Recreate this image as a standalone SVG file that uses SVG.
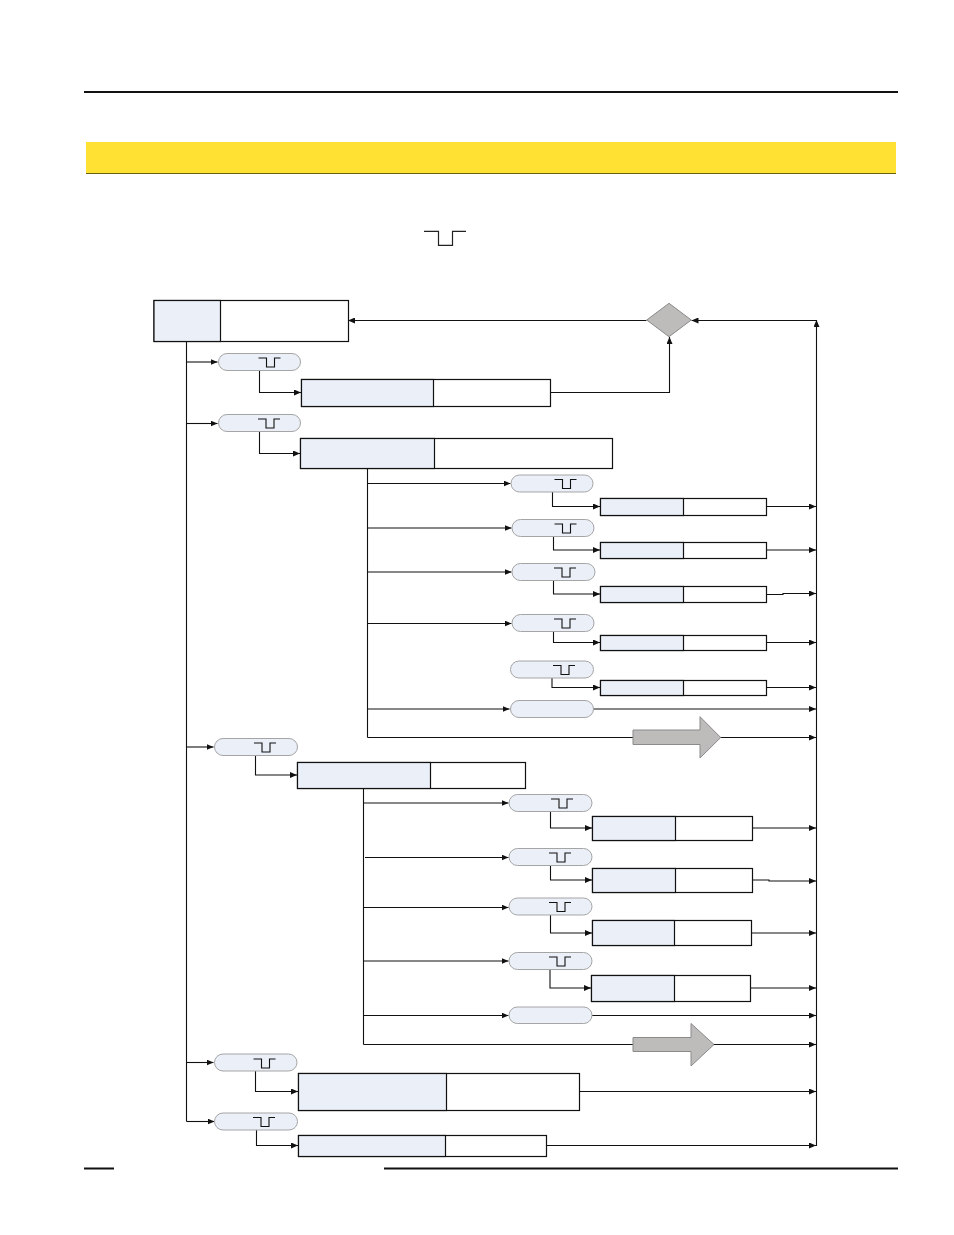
<svg xmlns="http://www.w3.org/2000/svg" width="954" height="1235" viewBox="0 0 954 1235">
<style>
.c{fill:none;stroke:#111;stroke-width:1.1}
.a{marker-end:url(#arr)}
.b{fill:#fff;stroke:#111;stroke-width:1.2}
.l{fill:#EAEFF8;stroke:#111;stroke-width:1.2}
.p{fill:#EAEFF8;stroke:#a5a5a5;stroke-width:1}
.g{fill:#BDBCBA;stroke:#8a8a8a;stroke-width:1}
.s{fill:none;stroke:#111;stroke-width:1.1}
</style>
<defs>
<marker id="arr" markerUnits="userSpaceOnUse" viewBox="0 0 7 6" markerWidth="7" markerHeight="6" refX="7" refY="3" orient="auto"><path d="M0 0L7 3L0 6Z" fill="#111"/></marker>
<path id="pu" class="s" d="M0 0H8V9H16V0H22"/>
</defs>
<rect width="954" height="1235" fill="#fff"/>
<g id="header">
<path d="M84 92H898" stroke="#111" stroke-width="2" fill="none"/>
<rect x="86" y="142" width="810" height="31" fill="#FFE133"/>
<path d="M86 173.5H896" stroke="#6b5f10" stroke-width="1" fill="none"/>
<path d="M424 231.3H438.5V245.3H452.5V231.3H466" fill="none" stroke="#222" stroke-width="1.2"/>
</g>
<g id="footer"><path d="M84 1168.5H114M384 1168.5H898" stroke="#111" stroke-width="2" fill="none"/></g>
<g id="connectors">
<path class="c a" d="M646.5 320.5H348"/>
<path class="c a" d="M816.5 320.5H691.5"/>
<path class="c a" d="M816.5 1146V320"/>
<path class="c a" d="M550 392.5H669.5V337"/>
<path class="c" d="M186.5 341V1121.5"/>
<path class="c a" d="M186.5 362H217.5"/>
<path class="c a" d="M186.5 423.5H217.5"/>
<path class="c a" d="M186.5 747H213.5"/>
<path class="c a" d="M186.5 1062.5H213.5"/>
<path class="c a" d="M186.5 1121.5H214.5"/>
<path class="c a" d="M259.5 370.5V392.5H301"/>
<path class="c a" d="M259.5 431.5V453.5H300"/>
<path class="c a" d="M255.5 755.5V775H297"/>
<path class="c a" d="M255.5 1071V1091.5H298"/>
<path class="c a" d="M256.5 1130V1145.5H298"/>
<path class="c" d="M367.5 468V737.5"/>
<path class="c a" d="M367.5 483.5H510.5"/>
<path class="c a" d="M367.5 528H511.5"/>
<path class="c a" d="M367.5 572H511.5"/>
<path class="c a" d="M367.5 623.5H511.5"/>
<path class="c a" d="M367.5 709H509.5"/>
<path class="c a" d="M367.5 737.5H816"/>
<path class="c a" d="M552.5 492V506.5H600"/>
<path class="c a" d="M553.5 536.5V550H600"/>
<path class="c a" d="M553.5 580V594H600"/>
<path class="c a" d="M553.5 631.5V642.5H600"/>
<path class="c a" d="M552 678V687.5H600"/>
<path class="c a" d="M766.5 506.5H816"/>
<path class="c a" d="M766.5 550H816"/>
<path class="c a" d="M766.5 594.5H783V593.5H816"/>
<path class="c a" d="M766.5 642.5H816"/>
<path class="c a" d="M766.5 687.5H816"/>
<path class="c a" d="M593 709H816"/>
<path class="c" d="M363.5 788.5V1044.5"/>
<path class="c a" d="M363.5 803H508.5"/>
<path class="c a" d="M365 857.5H508.5"/>
<path class="c a" d="M363.5 907.5H508.5"/>
<path class="c a" d="M363.5 961H508.5"/>
<path class="c a" d="M363.5 1015.5H508.5"/>
<path class="c a" d="M363.5 1044.5H816"/>
<path class="c a" d="M550.5 811.5V828H592"/>
<path class="c a" d="M550.5 865.5V880H592"/>
<path class="c a" d="M550.5 915V933H592"/>
<path class="c a" d="M550 969.5V988H591"/>
<path class="c a" d="M752.5 828H816"/>
<path class="c a" d="M752.5 880H769V881H816"/>
<path class="c a" d="M751.5 933H816"/>
<path class="c a" d="M750.5 988H816"/>
<path class="c a" d="M592 1015.5H816"/>
<path class="c a" d="M579.5 1091.5H816"/>
<path class="c a" d="M546.5 1145.5H816"/>
</g>
<g id="n-main"><rect class="b" x="154" y="300.5" width="194.5" height="41"/><rect class="l" x="154" y="300.5" width="66.5" height="41"/></g>
<g id="n-decision"><path class="g" d="M669 303.3L691.3 320L669 336.7L646.7 320Z"/></g>
<g id="p1"><rect class="p" x="218.5" y="353.5" width="82" height="17" rx="8.5"/><use href="#pu" x="258.5" y="358"/></g>
<g id="n1"><rect class="b" x="301.5" y="379.5" width="249" height="27"/><rect class="l" x="301.5" y="379.5" width="132" height="27"/></g>
<g id="p2"><rect class="p" x="218.5" y="414.5" width="82" height="17" rx="8.5"/><use href="#pu" x="258" y="419"/></g>
<g id="n2"><rect class="b" x="300.5" y="438.5" width="312" height="30"/><rect class="l" x="300.5" y="438.5" width="134" height="30"/></g>
<g id="p21"><rect class="p" x="511" y="475" width="82" height="17" rx="8.5"/><use href="#pu" x="554.5" y="479.5"/></g>
<g id="n21"><rect class="b" x="600.5" y="498.5" width="166" height="17"/><rect class="l" x="600.5" y="498.5" width="83" height="17"/></g>
<g id="p22"><rect class="p" x="512" y="519.5" width="82" height="17" rx="8.5"/><use href="#pu" x="554.5" y="524"/></g>
<g id="n22"><rect class="b" x="600.5" y="542.5" width="166" height="16"/><rect class="l" x="600.5" y="542.5" width="83" height="16"/></g>
<g id="p23"><rect class="p" x="512" y="563.5" width="83" height="17" rx="8.5"/><use href="#pu" x="554" y="568"/></g>
<g id="n23"><rect class="b" x="600.5" y="586.5" width="166" height="16"/><rect class="l" x="600.5" y="586.5" width="83" height="16"/></g>
<g id="p24"><rect class="p" x="512" y="614.5" width="82" height="17" rx="8.5"/><use href="#pu" x="554" y="619"/></g>
<g id="n24"><rect class="b" x="600.5" y="635.5" width="166" height="15"/><rect class="l" x="600.5" y="635.5" width="83" height="15"/></g>
<g id="p25"><rect class="p" x="510.5" y="661" width="83" height="17" rx="8.5"/><use href="#pu" x="553" y="665.5"/></g>
<g id="n25"><rect class="b" x="600.5" y="680.5" width="166" height="15"/><rect class="l" x="600.5" y="680.5" width="83" height="15"/></g>
<g id="p26"><rect class="p" x="510.5" y="700.5" width="83" height="17" rx="8.5"/></g>
<g id="big-arrow-1"><path class="g" d="M633 730H700V716.7L720.7 737.5L700 758V744.5H633Z"/></g>
<g id="p3"><rect class="p" x="214.5" y="738.5" width="83" height="17" rx="8.5"/><use href="#pu" x="254" y="743"/></g>
<g id="n3"><rect class="b" x="297.5" y="762.5" width="228" height="26"/><rect class="l" x="297.5" y="762.5" width="133" height="26"/></g>
<g id="p31"><rect class="p" x="509" y="794.5" width="83" height="17" rx="8.5"/><use href="#pu" x="551" y="799"/></g>
<g id="n31"><rect class="b" x="592.5" y="816.5" width="160" height="24"/><rect class="l" x="592.5" y="816.5" width="83" height="24"/></g>
<g id="p32"><rect class="p" x="509" y="848.5" width="83" height="17" rx="8.5"/><use href="#pu" x="549" y="853"/></g>
<g id="n32"><rect class="b" x="592.5" y="868.5" width="160" height="24"/><rect class="l" x="592.5" y="868.5" width="83" height="24"/></g>
<g id="p33"><rect class="p" x="509" y="898" width="83" height="17" rx="8.5"/><use href="#pu" x="549" y="902.5"/></g>
<g id="n33"><rect class="b" x="592.5" y="920.5" width="159" height="25"/><rect class="l" x="592.5" y="920.5" width="82" height="25"/></g>
<g id="p34"><rect class="p" x="509" y="952.5" width="83" height="17" rx="8.5"/><use href="#pu" x="549" y="957"/></g>
<g id="n34"><rect class="b" x="591.5" y="975.5" width="159" height="26"/><rect class="l" x="591.5" y="975.5" width="83" height="26"/></g>
<g id="p35"><rect class="p" x="509" y="1007" width="83" height="16.5" rx="8.25"/></g>
<g id="big-arrow-2"><path class="g" d="M633 1037.5H691V1023.5L714 1044.5L691 1066V1051.5H633Z"/></g>
<g id="p4"><rect class="p" x="214.5" y="1054" width="82.5" height="17" rx="8.5"/><use href="#pu" x="253.5" y="1059"/></g>
<g id="n4"><rect class="b" x="298.5" y="1073.5" width="281" height="37"/><rect class="l" x="298.5" y="1073.5" width="148" height="37"/></g>
<g id="p5"><rect class="p" x="214.5" y="1113" width="83" height="17" rx="8.5"/><use href="#pu" x="253" y="1117.5"/></g>
<g id="n5"><rect class="b" x="298.5" y="1135.5" width="248" height="21"/><rect class="l" x="298.5" y="1135.5" width="147" height="21"/></g>
</svg>
